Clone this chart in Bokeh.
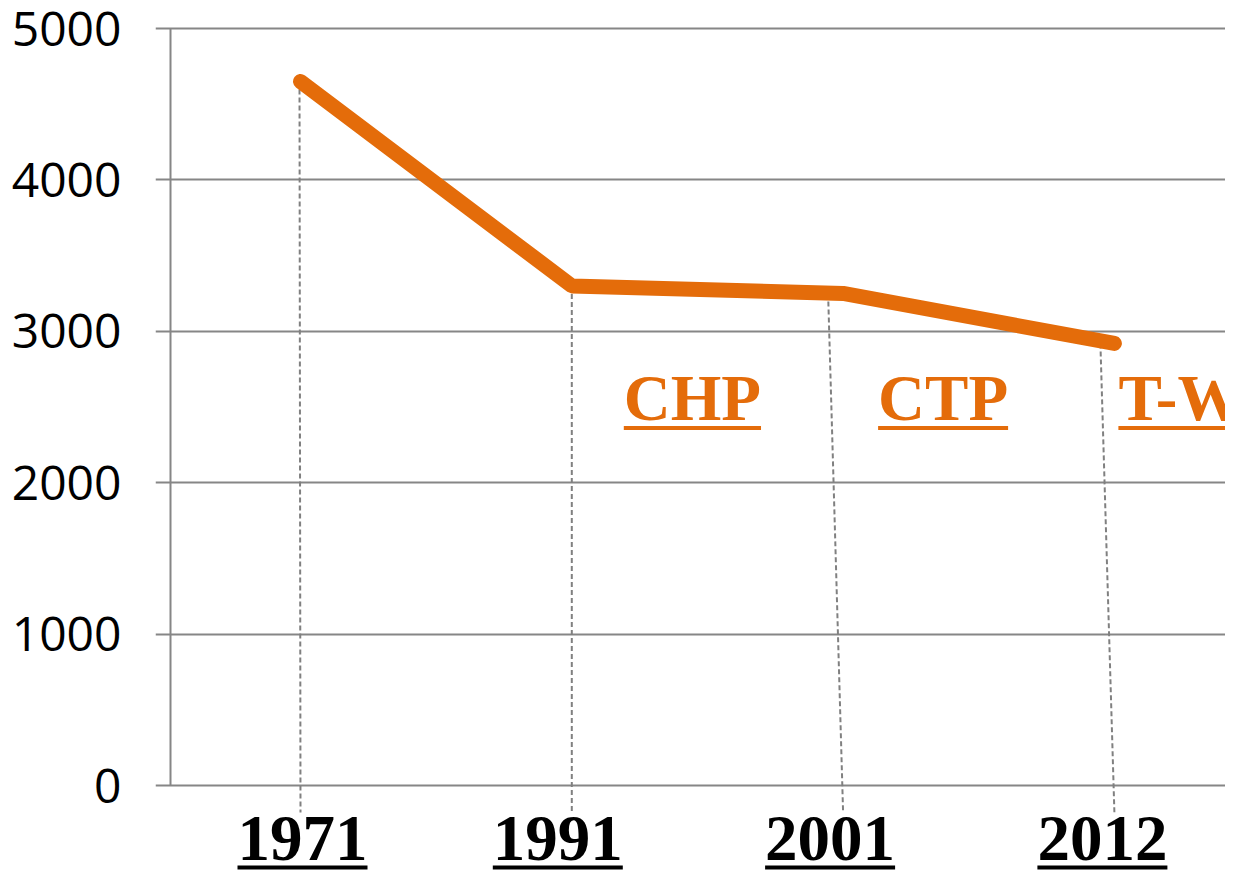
from bokeh.plotting import figure
from bokeh.models import FixedTicker, Range1d, ColumnDataSource
from bokeh.core.properties import value
from bokeh.embed import file_html
from bokeh.resources import INLINE

# ---- data ----
years = ["1971", "1991", "2001", "2012"]
values = [4650, 3300, 3250, 2920]
stage_labels = ["CHP", "CTP", "T-W"]
stage_after = [1, 2, 3]          # index of the year each stage label follows
y_ticks = [0, 1000, 2000, 3000, 4000, 5000]

# ---- style / layout ----
ORANGE = "#E46C0A"
GRID = "#868686"
LEADER = "#808080"
W, H = 1225, 878
BORDER_LEFT = 155
PPU_X = 271.3                    # px per category step
PPU_Y = 0.1514                   # px per unit of value
ZERO_PX = 785                    # pixel row of value 0
FIRST_PX = 300                   # pixel column of first category
FONT_PX = 65
SERIF = "Liberation Serif"
BASE_FIX = 24                    # baseline correction (px)

x_start = -(FIRST_PX - BORDER_LEFT) / PPU_X
x_end = x_start + (W - BORDER_LEFT) / PPU_X
y_end = ZERO_PX / PPU_Y
y_start = y_end - H / PPU_Y

def vy(py):
    return (ZERO_PX - py) / PPU_Y

# Times-bold advance widths (em) for underline lengths
ADV = {"C": 0.722, "H": 0.778, "P": 0.611, "T": 0.667, "-": 0.333, "W": 1.0}
def text_w(s):
    return sum(ADV.get(ch, 0.5) for ch in s) * FONT_PX

idx = list(range(len(years)))

p = figure(width=W, height=H, output_backend="svg", toolbar_location=None,
           x_range=Range1d(x_start, x_end), y_range=Range1d(y_start, y_end),
           x_axis_location=None, y_axis_location="left")
p.min_border_left = BORDER_LEFT
p.min_border_right = 0
p.min_border_top = 0
p.min_border_bottom = 0
p.outline_line_color = None
p.background_fill_color = "white"

ax = p.yaxis[0]
ax.ticker = FixedTicker(ticks=y_ticks)
ax.axis_line_color = None
ax.major_tick_line_color = None
ax.minor_tick_line_color = None
ax.major_tick_out = 0
ax.major_tick_in = 0
ax.major_label_standoff = 34
ax.major_label_text_font = "Open Sans"
ax.major_label_text_font_size = "48px"
ax.major_label_text_color = "black"

p.xgrid.visible = False
p.ygrid.ticker = FixedTicker(ticks=y_ticks)
p.ygrid.grid_line_color = GRID
p.ygrid.grid_line_width = 2

# vertical axis line (from 0 to top tick)
axis_x = x_start + 15 / PPU_X
p.segment(x0=[axis_x], y0=[y_ticks[0]], x1=[axis_x], y1=[y_ticks[-1]],
          line_color=GRID, line_width=2)

# leader lines from each point down below the baseline
leader_shift_px = [-1, 0, -15, -14]
leader_bottom = vy(812)
p.segment(x0=[i + s / PPU_X for i, s in zip(idx, leader_shift_px)], y0=values,
          x1=idx, y1=[leader_bottom] * len(idx),
          line_color=LEADER, line_width=2, line_dash="5 3")

# main series
p.line(idx, values, line_color=ORANGE, line_width=15, line_cap="round")

# year labels (bold serif, underlined)
year_off = [2, -14, -13, -12]
src_y = ColumnDataSource(dict(x=idx, y=[vy(862 - BASE_FIX)] * len(idx), t=years, dx=year_off))
p.text(x="x", y="y", text="t", x_offset="dx", source=src_y,
       text_font=value(SERIF), text_font_style="bold", text_font_size=f"{FONT_PX}px",
       text_color="black", text_align="center", text_baseline="alphabetic")
yu = vy(867)
p.segment(x0=[i + (o - text_w(t) / 2) / PPU_X for i, o, t in zip(idx, year_off, years)],
          y0=[yu] * len(idx),
          x1=[i + (o + text_w(t) / 2) / PPU_X for i, o, t in zip(idx, year_off, years)],
          y1=[yu] * len(idx), line_color="black", line_width=4, line_cap="butt")

# stage labels (orange, bold serif, underlined)
stage_off = [52, 35, 4]
src_s = ColumnDataSource(dict(x=stage_after, y=[vy(421 - BASE_FIX)] * len(stage_after),
                              t=stage_labels, dx=stage_off))
p.text(x="x", y="y", text="t", x_offset="dx", source=src_s,
       text_font=value(SERIF), text_font_style="bold", text_font_size=f"{FONT_PX}px",
       text_color=ORANGE, text_align="left", text_baseline="alphabetic")
su = vy(427.5)
p.segment(x0=[i + o / PPU_X for i, o in zip(stage_after, stage_off)],
          y0=[su] * len(stage_after),
          x1=[i + (o + text_w(t)) / PPU_X for i, o, t in zip(stage_after, stage_off, stage_labels)],
          y1=[su] * len(stage_after), line_color=ORANGE, line_width=4, line_cap="butt")

open("out.html", "w").write(file_html(p, INLINE))
